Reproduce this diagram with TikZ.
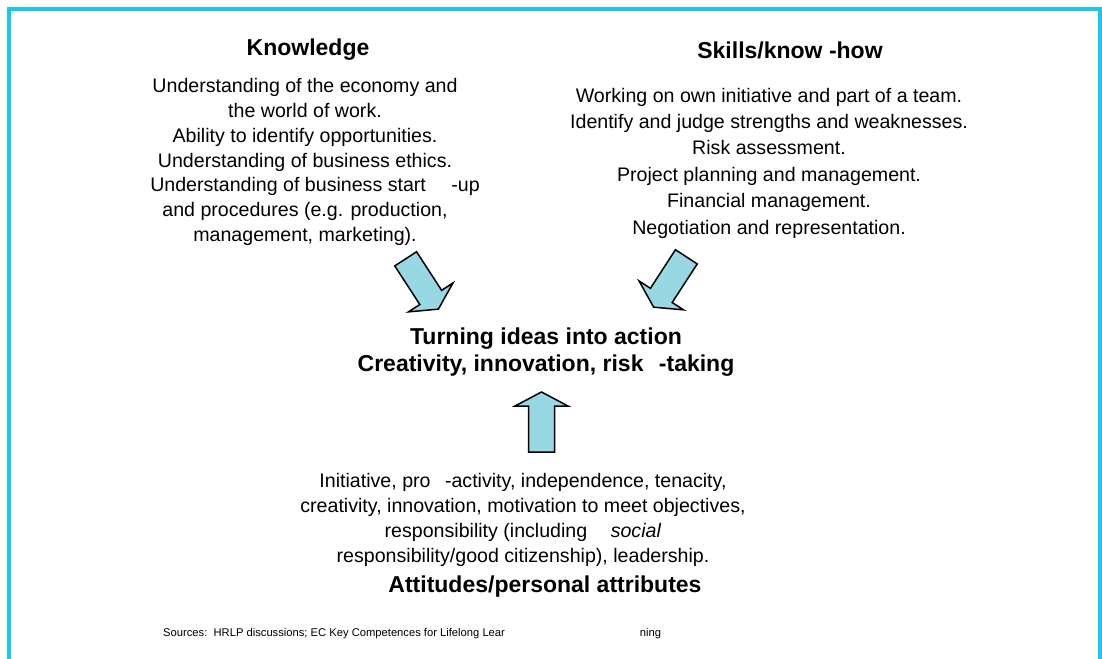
\documentclass[tikz,border=0pt]{standalone}
\usepackage{fontspec}
\setmainfont{Liberation Sans}
\definecolor{framecyan}{RGB}{25,200,240}
\definecolor{arrowcyan}{RGB}{152,216,226}
\tikzset{
  body/.style={align=center, inner sep=0pt, font=\fontsize{19.6}{24.7}\selectfont},
  head/.style={align=center, inner sep=0pt, font=\bfseries\fontsize{23}{27}\selectfont},
  blockarrow/.pic={\filldraw[fill=arrowcyan, draw=black, line width=1.5pt, line join=miter]
    (-30,-13) -- (16,-13) -- (16,-26.5) -- (30,0) -- (16,26.5) -- (16,13) -- (-30,13) -- cycle;}
}
\begin{document}
\begin{tikzpicture}[x=1pt,y=-1pt]
\useasboundingbox (0,0) rectangle (1102,658);
\draw[framecyan, line width=4pt] (9,660) -- (9,9) -- (1100,9) -- (1100,660);

\node[head] (know) at (308,50) {Knowledge};
\node[body] (knowbody) at (305,162) {Understanding of the economy and\\
the world of work.\\
Ability to identify opportunities.\\
Understanding of business ethics.\\
\hspace*{20pt}Understanding of business start\hspace*{20pt} -up\\
and procedures (e.g. production,\\
management, marketing).};

\node[head] (skills) at (790,50) {Skills/know -how};
\node[body, font=\fontsize{19.6}{26.4}\selectfont] (skillsbody) at (769,163) {Working on own initiative and part of a team.\\
Identify and judge strengths and weaknesses.\\
Risk assessment.\\
Project planning and management.\\
Financial management.\\
Negotiation and representation.};

\node[head] (action) at (546,352.5) {Turning ideas into action\\
Creativity, innovation, risk\hspace*{9pt} -taking};

\node[body, font=\fontsize{19.6}{25}\selectfont] (attbody) at (523,520) {Initiative, pro\hspace*{9pt} -activity, independence, tenacity,\\
creativity, innovation, motivation to meet objectives,\\
responsibility (including\hspace*{18pt} \textit{social}\\
responsibility/good citizenship), leadership.};
\node[head] (att) at (545,587) {Attitudes/personal attributes};

\node[anchor=west, inner sep=0pt, font=\fontsize{11.2}{13}\selectfont] (src) at (163,634) {Sources:\ \ HRLP discussions; EC Key Competences for Lifelong Lear\hspace*{135pt}ning};

\pic[rotate=-57] at (422,284) {blockarrow};
\pic[rotate=-123] at (670,282) {blockarrow};
\pic[rotate=90] at (541.5,422) {blockarrow};
\end{tikzpicture}
\end{document}
